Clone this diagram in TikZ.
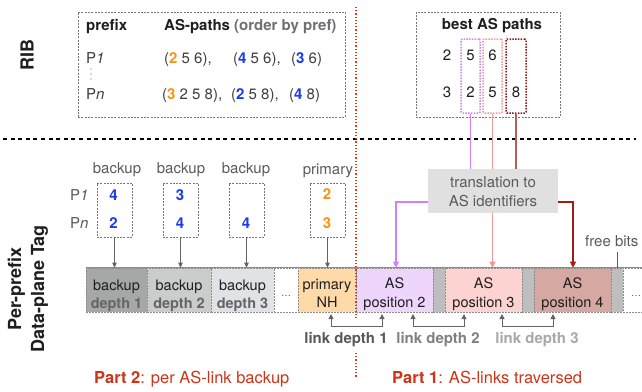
\documentclass[tikz,border=0pt]{standalone}
\usepackage{fontspec}
\setmainfont{TeX Gyre Heros}
\usetikzlibrary{arrows.meta,calc}
\definecolor{txtdark}{RGB}{30,30,30}
\definecolor{txtbody}{RGB}{60,60,60}
\definecolor{txtgray}{RGB}{90,90,90}
\definecolor{ordgray}{RGB}{110,110,115}
\definecolor{orng}{RGB}{247,148,22}
\definecolor{blu}{RGB}{25,60,240}
\definecolor{boxgray}{RGB}{120,120,120}
\definecolor{vio}{RGB}{212,125,255}
\definecolor{salm}{RGB}{243,150,148}
\definecolor{dred}{RGB}{140,22,18}
\definecolor{dredtop}{RGB}{180,95,88}
\definecolor{dredlow}{RGB}{165,28,16}
\definecolor{partred}{RGB}{205,52,25}
\definecolor{divred}{RGB}{220,55,35}
\definecolor{trfill}{RGB}{224,224,224}
\definecolor{bdone}{RGB}{166,168,167}
\definecolor{bdtwo}{RGB}{202,205,203}
\definecolor{bdthree}{RGB}{225,226,229}
\definecolor{primfill}{RGB}{253,218,168}
\definecolor{posa}{RGB}{237,213,252}
\definecolor{posb}{RGB}{253,211,209}
\definecolor{posc}{RGB}{214,168,162}
\definecolor{gapgray}{RGB}{190,190,190}
\definecolor{cellb}{RGB}{140,140,140}
\definecolor{depthgray}{RGB}{100,100,106}
\definecolor{linkone}{RGB}{88,88,88}
\definecolor{linktwo}{RGB}{128,128,128}
\definecolor{linkthree}{RGB}{168,168,168}
\definecolor{arrgray}{RGB}{100,100,100}
\begin{document}
\begin{tikzpicture}[x=1pt,y=-1pt,
  t15/.style={font=\fontsize{15}{18}\selectfont, inner sep=0pt, text=txtbody},
  tb15/.style={font=\fontsize{15}{18}\selectfont\bfseries, inner sep=0pt, text=txtdark},
  ctxt/.style={font=\fontsize{14.5}{18}\selectfont, inner sep=0pt, text=txtdark, anchor=base},
  ctxtb/.style={font=\fontsize{14.5}{18}\selectfont\bfseries, inner sep=0pt, text=depthgray, anchor=base},
  big/.style={font=\fontsize{18}{23}\selectfont\bfseries, inner sep=0pt, text=txtdark, rotate=90, align=center},
  dbox/.style={draw=boxgray, line width=0.7pt, dash pattern=on 2pt off 1.3pt, inner sep=0pt},
  selbox/.style={line width=1.5pt, dash pattern=on 1.5pt off 1.3pt, rounded corners=1pt, minimum width=19, minimum height=74, inner sep=0pt},
  cellr/.style={draw=cellb, line width=0.6pt, dash pattern=on 2pt off 1pt, minimum height=44, inner sep=0pt},
  garrow/.style={draw=arrgray, line width=0.8pt, -{Triangle[length=5pt,width=4.5pt]}},
  carrow/.style={line width=1.2pt, -{Triangle[length=6pt,width=6pt]}},
  lkarrow/.style={draw=arrgray, line width=1pt, {Triangle[length=5pt,width=5pt]}-{Triangle[length=5pt,width=5pt]}},
  dots/.style={font=\fontsize{10}{12}\selectfont, text=txtgray, inner sep=0pt}
]
\useasboundingbox (0,0) rectangle (642,391);

% ---------- divider lines ----------
\draw[black, line width=2.4pt, dash pattern=on 4pt off 3.6pt] (3,139) -- (636,139);

% ---------- side labels ----------
\node[big] (ribl) at (27,55) {RIB};
\node[big] (tagl) at (28,289) {Per-prefix\\Data-plane Tag};

% ---------- RIB table ----------
\node[dbox, minimum width=267, minimum height=105] (rib) at (211.5,64.5) {};
\node[tb15, anchor=base west] (hpre) at (86,30) {prefix};
\node[tb15, anchor=base west] (hasp) at (164,30) {AS-paths \textcolor{ordgray}{(order by pref)}};
\node[t15, anchor=base west] (p1) at (86,63) {P\textit{1}};
\node[t15, anchor=base west] (pn) at (86,99) {P\textit{n}};
\fill[txtgray] (91,69) circle (0.6) (91,74) circle (0.6) (91,79) circle (0.6);
\node[t15, anchor=base west] (r1a) at (164,63) {(\textbf{\textcolor{orng}{2}} 5 6),};
\node[t15, anchor=base west] (r1b) at (233,63) {(\textbf{\textcolor{blu}{4}} 5 6),};
\node[t15, anchor=base west] (r1c) at (291,63) {(\textbf{\textcolor{blu}{3}} 6)};
\node[t15, anchor=base west] (r2a) at (162,99) {(\textbf{\textcolor{orng}{3}} 2 5 8),};
\node[t15, anchor=base west] (r2b) at (231,99) {(\textbf{\textcolor{blu}{2}} 5 8),};
\node[t15, anchor=base west] (r2c) at (289,99) {(\textbf{\textcolor{blu}{4}} 8)};

% ---------- best AS paths ----------
\node[dbox, minimum width=144, minimum height=105] (best) at (488,64.5) {};
\node[tb15, anchor=base] (besth) at (492,29) {best AS paths};
\node[selbox, draw=vio] (vb) at (470.5,76) {};
\node[selbox, draw=salm] (sb) at (492.5,76) {};
\node[selbox, draw=dred, minimum width=20] (db) at (516,76) {};
\node[t15, anchor=base, text=txtdark] (n11) at (447,60) {2};
\node[t15, anchor=base, text=txtdark] (n12) at (470.5,60) {5};
\node[t15, anchor=base, text=txtdark] (n13) at (492.5,60) {6};
\node[t15, anchor=base, text=txtdark] (n21) at (447,97) {3};
\node[t15, anchor=base, text=txtdark] (n22) at (470.5,97) {2};
\node[t15, anchor=base, text=txtdark] (n23) at (492.5,97) {5};
\node[t15, anchor=base, text=txtdark] (n24) at (516,97) {8};

% ---------- tag cells ----------
\node[cellr, fill=bdone, minimum width=61] (c1) at (116.5,290) {};
\node[cellr, fill=bdtwo, minimum width=64] (c2) at (179,290) {};
\node[cellr, fill=bdthree, minimum width=63] (c3) at (242.5,290) {};
\node[cellr, fill=white, minimum width=24] (cd1) at (286,290) {};
\node[cellr, fill=primfill, minimum width=58] (cp) at (327,290) {};
\node[cellr, fill=posa, minimum width=77] (ca2) at (394.5,290) {};
\node[cellr, fill=gapgray, minimum width=12] (g1) at (439,290) {};
\node[cellr, fill=posb, minimum width=77] (ca3) at (483.5,290) {};
\node[cellr, fill=gapgray, minimum width=12] (g2) at (528,290) {};
\node[cellr, fill=posc, minimum width=77] (ca4) at (572.5,290) {};
\node[cellr, fill=gapgray, minimum width=12] (g3) at (617,290) {};
\node[cellr, fill=white, minimum width=40] (cd2) at (643,290) {};
\draw[cellb, line width=1.3pt] (c1.north west) -- (cd2.north east);

\node[ctxt] (t1a) at (116.5,290) {backup};
\node[ctxtb] (t1b) at (116.5,308) {depth 1};
\node[ctxt] (t2a) at (179,290) {backup};
\node[ctxtb] (t2b) at (179,308) {depth 2};
\node[ctxt] (t3a) at (242.5,290) {backup};
\node[ctxtb] (t3b) at (242.5,308) {depth 3};
\node[dots] (d1) at (286,296) {\dots};
\node[ctxt] (tpa) at (327,289) {primary};
\node[ctxt] (tpb) at (327,307) {NH};
\node[ctxt] (ta2a) at (394.5,288) {AS};
\node[ctxt] (ta2b) at (394.5,307) {position 2};
\node[ctxt] (ta3a) at (483.5,288) {AS};
\node[ctxt] (ta3b) at (483.5,307) {position 3};
\node[ctxt] (ta4a) at (572.5,288) {AS};
\node[ctxt] (ta4b) at (572.5,307) {position 4};
\node[dots] (d2) at (636,296) {\dots};

% ---------- per-prefix backup boxes ----------
\node[dbox, minimum width=35, minimum height=54] (bb1) at (114.5,210) {};
\node[dbox, minimum width=35, minimum height=54] (bb2) at (180.5,210) {};
\node[dbox, minimum width=35, minimum height=54] (bb3) at (246.5,210) {};
\node[dbox, minimum width=35, minimum height=54] (pb) at (327.5,210) {};
\node[t15, anchor=base, text=txtgray] (lb1) at (117,173) {backup};
\node[t15, anchor=base, text=txtgray] (lb2) at (181,173) {backup};
\node[t15, anchor=base, text=txtgray] (lb3) at (246,173) {backup};
\node[t15, anchor=base, text=txtgray] (lp) at (328,174) {primary};
\node[t15, anchor=base west, text=txtgray] (q1) at (70,200) {P\textit{1}};
\node[t15, anchor=base west, text=txtgray] (qn) at (70,228) {P\textit{n}};
\node[tb15, anchor=base, text=blu] (v11) at (113.5,200) {4};
\node[tb15, anchor=base, text=blu] (v12) at (113.5,228) {2};
\node[tb15, anchor=base, text=blu] (v21) at (180,200) {3};
\node[tb15, anchor=base, text=blu] (v22) at (180,228) {4};
\node[tb15, anchor=base, text=blu] (v32) at (246,228) {4};
\node[tb15, anchor=base, text=orng] (vp1) at (327,199) {2};
\node[tb15, anchor=base, text=orng] (vp2) at (327,228) {3};

\draw[garrow] (bb1.south) -- (bb1.south |- c1.north);
\draw[garrow] (bb2.south) -- (bb2.south |- c2.north);
\draw[garrow] (bb3.south) -- (bb3.south |- c3.north);
\draw[garrow] (pb.south) -- (pb.south |- cp.north);

% ---------- translation connectors ----------
\coordinate (vturn) at (396,202);
\coordinate (dturn) at (573,202);
\draw[carrow, draw=vio] (vb.south) |- (vturn) -- (vturn |- ca2.north);
\draw[carrow, draw=salm] (sb.south) -- (sb.south |- ca3.north);
\draw[carrow, draw=dredlow] (db.south) |- (dturn) -- (dturn |- ca4.north);
\node[fill=trfill, minimum width=130, minimum height=44, inner sep=0pt] (tr) at (493,191) {};
\draw[dredtop, line width=1.2pt] (db.south) -- (db.south |- tr.north);
\node[t15, anchor=base, text=txtgray] (tr1) at (493,187) {translation to};
\node[t15, anchor=base, text=txtgray] (tr2) at (493,206) {AS identifiers};

% ---------- free bits ----------
\node[t15, anchor=base west, text=txtgray] (fb) at (585,246) {free bits};
\coordinate (fbtop) at (617,252);
\draw[txtgray, line width=0.9pt] (fbtop) -- (fbtop |- g3.north);

% ---------- red divider ----------
\coordinate (rdtop) at (356,7);
\coordinate (rdmid) at (356,318);
\coordinate (rdlow) at (356,353);
\coordinate (rdbot) at (356,378);
\draw[divred, line width=1.8pt, dash pattern=on 1.2pt off 2pt] (rdtop) -- (rdmid);
\draw[divred, line width=1.8pt, dash pattern=on 1.2pt off 2pt] (rdlow) -- (rdbot);

% ---------- link depth brackets ----------
\coordinate (l1a) at (331,314);
\coordinate (l1b) at (382,314);
\coordinate (l2a) at (413,314);
\coordinate (l2b) at (464,314);
\coordinate (l3a) at (502,314);
\coordinate (l3b) at (553,314);
\draw[lkarrow] (l1a) -- ++(0,12) -| (l1b);
\draw[lkarrow] (l2a) -- ++(0,12) -| (l2b);
\draw[lkarrow] (l3a) -- ++(0,12) -| (l3b);
\node[tb15, anchor=base, text=linkone] (ld1) at (346,343) {link depth 1};
\node[tb15, anchor=base, text=linktwo] (ld2) at (438,343) {link depth 2};
\node[tb15, anchor=base, text=linkthree] (ld3) at (537,343) {link depth 3};

% ---------- parts ----------
\node[anchor=base west, inner sep=0pt, text=partred, font=\fontsize{16.5}{20}\selectfont] (part2) at (94,383) {\textbf{Part 2}: per AS-link backup};
\node[anchor=base west, inner sep=0pt, text=partred, font=\fontsize{16.5}{20}\selectfont] (part1) at (392,383) {\textbf{Part 1}: AS-links traversed};
\end{tikzpicture}
\end{document}
